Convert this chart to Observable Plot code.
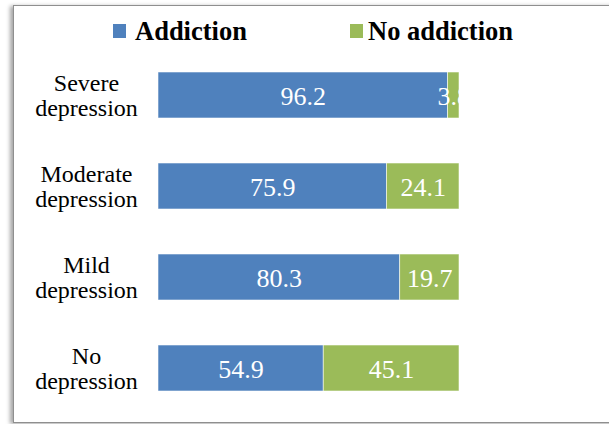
<!DOCTYPE html>
<html>
<head>
<meta charset="utf-8">
<script src="https://cdn.jsdelivr.net/npm/d3@7"></script>
<script src="https://cdn.jsdelivr.net/npm/@observablehq/plot@0.6"></script>
<style>
  html, body { margin: 0; padding: 0; background: #fff; }
  #wrap { position: relative; width: 609px; height: 424px; overflow: hidden; background: #fff; font-family: 'Liberation Serif', serif; }
  #frame { position: absolute; left: 13px; top: 5px; width: 700px; height: 416px; border: 1px solid #8f8f8f; box-shadow: -3px 1px 4px rgba(0,0,0,0.35); background: #fff; }
  .sw { position: absolute; width: 13px; height: 14px; top: 24px; }
  .lt { position: absolute; top: 16px; font-family: 'Liberation Serif', serif; font-size: 26.5px; line-height: 30px; font-weight: bold; color: #000; white-space: nowrap; }
  #chart { position: absolute; left: 0; top: 50px; }
  #chart svg, #chart svg text { font-family: 'Liberation Serif', serif !important; }
</style>
</head>
<body>
<div id="wrap">
  <div id="frame"></div>
  <div id="legend"></div>
  <div id="chart"></div>
</div>
<script>
const categories = ["Severe depression", "Moderate depression", "Mild depression", "No depression"];
const categoryLabels = ["Severe\ndepression", "Moderate\ndepression", "Mild\ndepression", "No\ndepression"];
const series = ["Addiction", "No addiction"];
const colors = ["#4F81BD", "#9BBB59"];
const addiction = [96.2, 75.9, 80.3, 54.9];
const noAddiction = [3.8, 24.1, 19.7, 45.1];

const data = [];
categories.forEach((c, i) => {
  data.push({cat: c, series: series[0], value: addiction[i]});
  data.push({cat: c, series: series[1], value: noAddiction[i]});
});

// legend
const legend = document.getElementById("legend");
const legendPos = [{sw: 113, tx: 135}, {sw: 349.5, tx: 368}];
series.forEach((s, i) => {
  const sw = document.createElement("div");
  sw.className = "sw";
  sw.style.left = legendPos[i].sw + "px";
  sw.style.background = colors[i];
  legend.appendChild(sw);
  const t = document.createElement("div");
  t.className = "lt";
  t.style.left = legendPos[i].tx + "px";
  t.textContent = s;
  legend.appendChild(t);
});

const labelMap = new Map(categories.map((c, i) => [c, categoryLabels[i]]));
const FONT = "'Liberation Serif', serif";

const chart = Plot.plot({
  width: 609,
  height: 374,
  marginLeft: 158,
  marginRight: 150,
  marginTop: 20.7,
  marginBottom: 31.3,
  style: "font-family: 'Liberation Serif', serif; background: transparent;",
  x: {domain: [0, 100], axis: null},
  y: {domain: categories, paddingInner: 0.49, paddingOuter: 0, label: null},
  color: {domain: series, range: colors},
  marks: [
    Plot.barX(data, Plot.stackX({x: "value", y: "cat", fill: "series", order: series, stroke: "#ffffff", strokeWidth: 0.8, strokeOpacity: 0.7})),
    Plot.text(data, Plot.stackX({x: "value", y: "cat", z: "series", order: series, text: d => d.value.toFixed(1), fill: "white", fontSize: 26, fontFamily: FONT, dy: 1, clip: true})),
    Plot.axisY({tickSize: 0, tickPadding: 72, textAnchor: "middle", fontSize: 24, fontFamily: FONT, lineHeight: 1.04, tickFormat: d => labelMap.get(d), fill: "#000", label: null})
  ]
});
document.getElementById("chart").appendChild(chart);
</script>
</body>
</html>
